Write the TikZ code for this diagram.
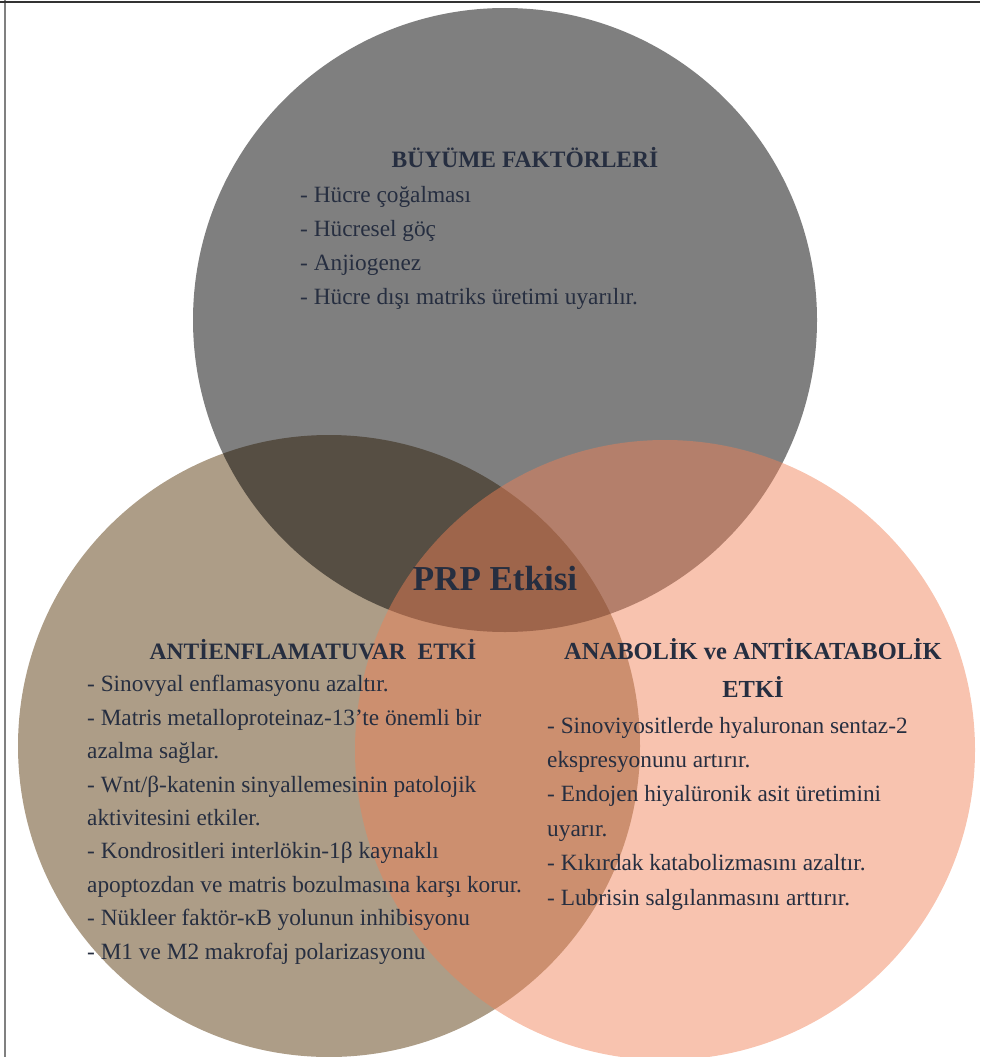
\documentclass[tikz,border=0pt]{standalone}
\usepackage{fontspec}
\setmainfont{Liberation Serif}
\usetikzlibrary{positioning}

\definecolor{kahve}{RGB}{173,157,135}
\definecolor{somon}{RGB}{240,128,85}
\definecolor{yazi}{RGB}{38,46,64}

\tikzset{
  govde/.style={text=yazi, align=left, inner sep=0pt, anchor=base west,
    font=\fontsize{23.3}{34}\selectfont},
  baslik/.style={text=yazi, align=center, inner sep=0pt, anchor=base,
    font=\fontsize{23.5}{38}\selectfont\bfseries},
}

\begin{document}
\begin{tikzpicture}[x=1pt,y=-1pt]
    \useasboundingbox (0,0) rectangle (980,1057);

		\coordinate (B) at (505,320) ; % buyume
		\coordinate (A) at (329,746) ; % antienflamatuvar
		\coordinate (K) at (665,750) ; % anabolik

		\fill[kahve] (A) circle (311pt);
		\fill[black, fill opacity=0.5] (B) circle (312pt);
		\fill[somon, fill opacity=0.47] (K) circle (310pt);

		\draw[line width=2pt, black!50] (5,0) -- (5,1057);
		\draw[line width=1.6pt, black!80] (0,2) -- (980,2);

		% base = son satir
		\node[baslik] (bbas) at (525,167) {BÜYÜME FAKTÖRLERİ};
		\node[govde] (bmet) at (300,304) {- Hücre çoğalması\\- Hücresel göç\\- Anjiogenez\\- Hücre dışı matriks üretimi uyarılır.};

		\node[baslik, font=\fontsize{35}{40}\selectfont\bfseries] (prp) at (495,590) {PRP Etkisi};

		\node[baslik] (abas) at (313,659) {ANTİENFLAMATUVAR\ \ ETKİ};
		\node[govde, font=\fontsize{23.3}{33.4}\selectfont] (amet) at (87,959) {- Sinovyal enflamasyonu azaltır.\\- Matris metalloproteinaz-13’te önemli bir\\azalma sağlar.\\- Wnt/β-katenin sinyallemesinin patolojik\\aktivitesini etkiler.\\- Kondrositleri interlökin-1β kaynaklı\\apoptozdan ve matris bozulmasına karşı korur.\\- Nükleer faktör-κB yolunun inhibisyonu\\- M1 ve M2 makrofaj polarizasyonu};

		\node[baslik, font=\fontsize{24.5}{38}\selectfont\bfseries] (kbas) at (753,697) {ANABOLİK ve ANTİKATABOLİK\\ETKİ};
		\node[govde, font=\fontsize{23.3}{34.4}\selectfont] (kmet) at (547,905) {- Sinoviyositlerde hyaluronan sentaz-2\\ekspresyonunu artırır.\\- Endojen hiyalüronik asit üretimini\\uyarır.\\- Kıkırdak katabolizmasını azaltır.\\- Lubrisin salgılanmasını arttırır.};
\end{tikzpicture}
\end{document}
